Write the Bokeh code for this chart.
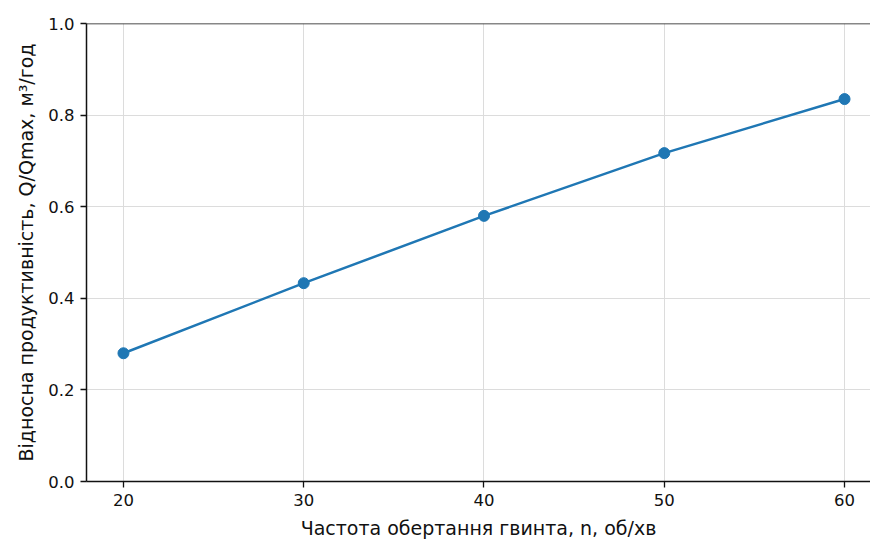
from bokeh.plotting import figure
from bokeh.models import Range1d, Span, FixedTicker, CustomJSTickFormatter
from bokeh.embed import file_html
from bokeh.resources import INLINE

# Screw rotation speed (rev/min) and relative throughput Q/Qmax
speed = [20, 30, 40, 50, 60]
rel_throughput = [0.28, 0.433, 0.58, 0.717, 0.835]

x_ticks = [20, 30, 40, 50, 60]
y_ticks = [0.0, 0.2, 0.4, 0.6, 0.8, 1.0]

FONT = "DejaVu Sans"
BLUE = "#1f77b4"
INK = "#111111"

p = figure(
    width=870, height=543,
    output_backend="svg", toolbar_location=None,
    x_range=Range1d(17.95, 61.44), y_range=Range1d(0.0, 1.0),
    min_border_left=86, min_border_right=0, min_border_top=23, min_border_bottom=62,
)
p.outline_line_color = None
p.background_fill_color = "white"
p.border_fill_color = "white"

# grid
for g in (p.xgrid, p.ygrid):
    g.grid_line_color = "#dcdcdc"
    g.grid_line_width = 1
p.xgrid.ticker = FixedTicker(ticks=x_ticks)
p.ygrid.ticker = FixedTicker(ticks=y_ticks)

# axes
p.xaxis.ticker = FixedTicker(ticks=x_ticks)
p.yaxis.ticker = FixedTicker(ticks=y_ticks)
p.yaxis.formatter = CustomJSTickFormatter(code="return tick.toFixed(1);")
for ax in (p.xaxis[0], p.yaxis[0]):
    ax.axis_line_color = INK
    ax.axis_line_width = 1.5
    ax.major_tick_line_color = INK
    ax.major_tick_line_width = 1.3
    ax.major_tick_out = 6
    ax.major_tick_in = 0
    ax.minor_tick_line_color = None
    ax.major_label_text_font = FONT
    ax.major_label_text_font_size = "16.5px"
    ax.major_label_text_color = INK
    ax.axis_label_text_font = FONT
    ax.axis_label_text_font_size = "19px"
    ax.axis_label_text_font_style = "normal"
    ax.axis_label_text_color = INK

p.xaxis.axis_label = "Частота обертання гвинта, n, об/хв"
p.yaxis.axis_label = "Відносна продуктивність, Q/Qmax, м³/год"
p.xaxis.major_label_standoff = 6
p.yaxis.major_label_standoff = 6
p.xaxis.axis_label_standoff = 8
p.yaxis.axis_label_standoff = 8

# top spine
p.add_layout(Span(location=1.0, dimension="width", line_color=INK, line_width=1.5))

p.line(speed, rel_throughput, line_color=BLUE, line_width=2.5)
p.scatter(speed, rel_throughput, size=11, fill_color=BLUE, line_color=BLUE)

open("out.html", "w").write(file_html(p, INLINE))
